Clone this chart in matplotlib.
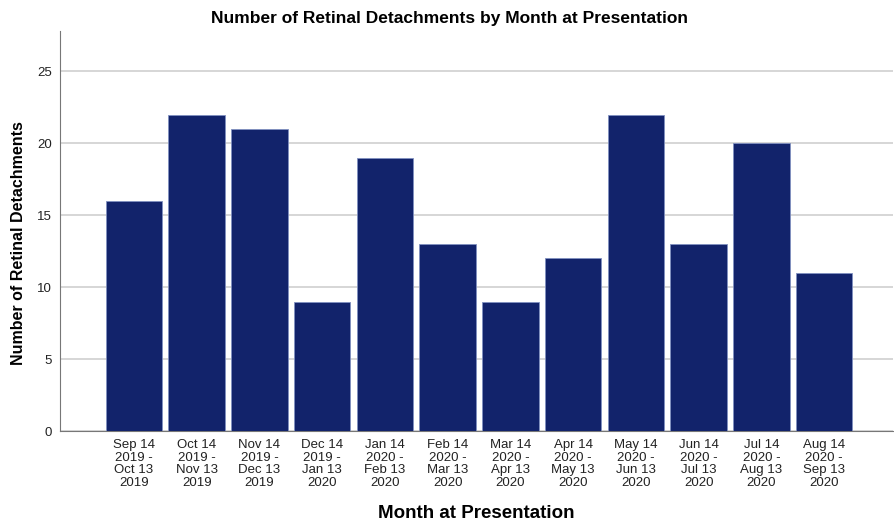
import matplotlib
matplotlib.use('Agg')
import matplotlib.pyplot as plt

# month ranges at presentation
months = ['Sep 14\n2019 -\nOct 13\n2019', 'Oct 14\n2019 -\nNov 13\n2019', 'Nov 14\n2019 -\nDec 13\n2019',
          'Dec 14\n2019 -\nJan 13\n2020', 'Jan 14\n2020 -\nFeb 13\n2020', 'Feb 14\n2020 -\nMar 13\n2020',
          'Mar 14\n2020 -\nApr 13\n2020', 'Apr 14\n2020 -\nMay 13\n2020', 'May 14\n2020 -\nJun 13\n2020',
          'Jun 14\n2020 -\nJul 13\n2020', 'Jul 14\n2020 -\nAug 13\n2020', 'Aug 14\n2020 -\nSep 13\n2020']
counts = [16, 22, 21, 9, 19, 13, 9, 12, 22, 13, 20, 11]
yticks = [0, 5, 10, 15, 20, 25]

plt.rcParams['font.family'] = ['Liberation Sans', 'DejaVu Sans']

fig = plt.figure(figsize=(8.94, 5.27), dpi=100)
ax = fig.add_axes([0.067, 0.182, 0.932, 0.759])

x = list(range(len(months)))
ax.bar(x, counts, width=0.9, color='#12236b', edgecolor='#8090c0', linewidth=0.6, zorder=3)

ax.set_xlim(-1.18, 12.1)
ax.set_ylim(0, 27.8)
ax.set_yticks(yticks)
ax.yaxis.grid(True, color='#cfcfcf', linewidth=1.2, zorder=0)
ax.set_xticks(x)
ax.set_xticklabels(months, fontsize=9.5, linespacing=1.05)
ax.tick_params(axis='x', length=0, pad=6, labelsize=9.5, colors='#222222')
ax.tick_params(axis='y', length=0, pad=6, labelsize=9.5, colors='#222222')

for s in ['top', 'right']:
    ax.spines[s].set_visible(False)
ax.spines['left'].set_color('#777777')
ax.spines['bottom'].set_color('#777777')

fig.text(0.503, 0.965, 'Number of Retinal Detachments by Month at Presentation',
         fontsize=12.5, fontweight='bold', ha='center', va='center')
ax.set_xlabel('Month at Presentation', fontsize=13.5, fontweight='bold', labelpad=12)
ax.set_ylabel('Number of Retinal Detachments', fontsize=11.5, fontweight='bold')
ax.yaxis.set_label_coords(-0.041, 0.47)

fig.savefig('out.png', dpi=100)
